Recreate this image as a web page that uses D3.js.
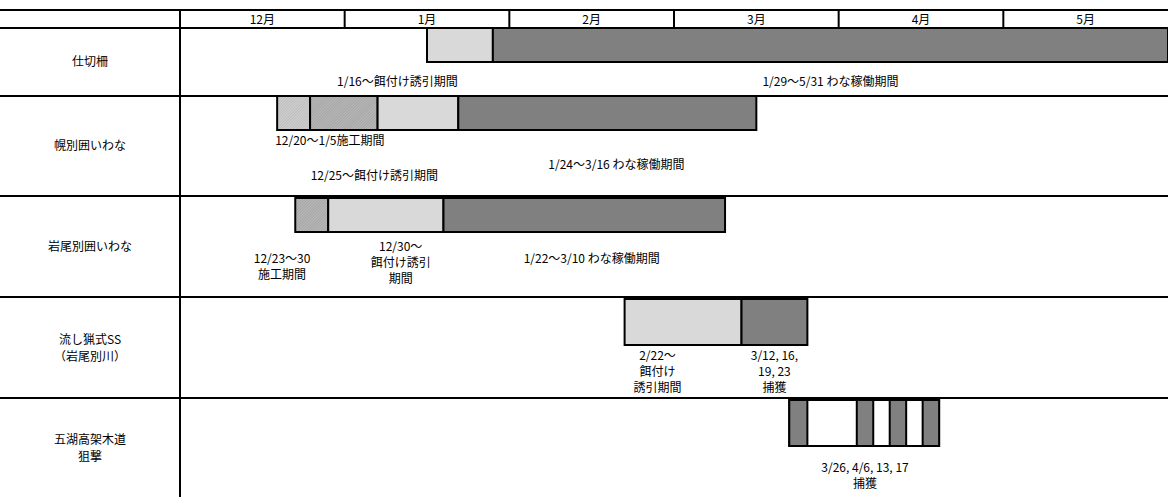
<!DOCTYPE html>
<html><head><meta charset="utf-8">
<script src="https://cdn.jsdelivr.net/npm/d3@7"></script>
<style>body{margin:0;background:#fff}text{font-family:"Noto Sans CJK JP",sans-serif;font-size:12px;fill:#000}</style>
</head><body><svg id="c" width="1168" height="500"></svg>
<script>
// months on the header, positions in fractional months from 1 Dec
var months = ["12月","1月","2月","3月","4月","5月"];
var rowNames = [["仕切柵"],["幌別囲いわな"],["岩尾別囲いわな"],["流し猟式SS","（岩尾別川）"],["五湖高架木道","狙撃"]];
var rowBounds = [28, 96, 196, 297, 398, 497];
// bars: row, start, end, kind
var bars = [
  [0,1.50,1.90,"bait"],[0,1.90,6.0,"trap"],
  [1,0.59,0.79,"hatchL"],[1,0.79,1.20,"hatchD"],[1,1.20,1.69,"bait"],[1,1.69,3.50,"trap"],
  [2,0.70,0.90,"hatchD"],[2,0.90,1.60,"bait"],[2,1.60,3.31,"trap"],
  [3,2.70,3.41,"bait"],[3,3.41,3.81,"trap"],
  [4,3.70,4.61,"empty"],[4,3.70,3.81,"trap"],[4,4.11,4.21,"trap"],[4,4.31,4.41,"trap"],[4,4.51,4.61,"trap"]
];
var barTop = [28,96,198,299,400], barH = [34,34,34,46,46];
// labels: lines, x (months), y
var notes = [
  [["1/16〜餌付け誘引期間"],1.32,86],
  [["1/29〜5/31 わな稼働期間"],3.95,86],
  [["12/20〜1/5施工期間"],0.91,145],
  [["12/25〜餌付け誘引期間"],1.18,180],
  [["1/24〜3/16 わな稼働期間"],2.65,169],
  [["12/23〜30","施工期間"],0.62,263],
  [["12/30〜","餌付け誘引","期間"],1.34,251],
  [["1/22〜3/10 わな稼働期間"],2.50,263],
  [["2/22〜","餌付け","誘引期間"],2.90,360],
  [["3/12, 16,","19, 23","捕獲"],3.61,360],
  [["3/26, 4/6, 13, 17","捕獲"],4.16,472]
];

var svg = d3.select("#c");
var x = d3.scaleLinear().domain([0,6]).range([180,1168]);
var defs = svg.append("defs");
function hatch(id, bg, fg){
  var p = defs.append("pattern").attr("id",id).attr("width",2).attr("height",2)
    .attr("patternUnits","userSpaceOnUse").attr("patternTransform","rotate(45)");
  p.append("rect").attr("width",2).attr("height",2).attr("fill",bg);
  p.append("line").attr("x1",0).attr("y1",0).attr("x2",0).attr("y2",2).attr("stroke",fg).attr("stroke-width",0.8);
}
hatch("hl","#d0d0d0","#a0a0a0");
hatch("hd","#b8b8b8","#8c8c8c");
var fills = {bait:"#d9d9d9",trap:"#808080",hatchL:"url(#hl)",hatchD:"url(#hd)",empty:"#fff"};

svg.selectAll("rect.bar").data(bars).enter().append("rect")
  .attr("x",d=>x(d[1])).attr("width",d=>x(d[2])-x(d[1]))
  .attr("y",d=>barTop[d[0]]).attr("height",d=>barH[d[0]])
  .attr("fill",d=>fills[d[3]]).attr("stroke","#000").attr("stroke-width",2);

// grid
var g = svg.append("g").attr("stroke","#000").attr("stroke-width",2);
g.append("line").attr("x1",0).attr("x2",1168).attr("y1",10).attr("y2",10);
rowBounds.forEach(function(y,i){
  g.append("line").attr("x1",0).attr("x2",1168).attr("y1",y).attr("y2",y)
   .attr("stroke-width", i==rowBounds.length-1 ? 0 : 2);
});
g.append("line").attr("x1",180).attr("x2",180).attr("y1",10).attr("y2",497);
d3.range(1,6).forEach(function(i){
  g.append("line").attr("x1",x(i)).attr("x2",x(i)).attr("y1",10).attr("y2",28);
});
svg.selectAll("text.m").data(months).enter().append("text")
  .attr("x",(d,i)=>x(i+0.5)).attr("y",24).attr("text-anchor","middle").text(d=>d);

rowNames.forEach(function(r,i){
  var cy = (rowBounds[i]+rowBounds[i+1])/2 - (r.length-1)*8 + 4;
  r.forEach(function(t,j){
    svg.append("text").attr("x",90).attr("y",cy+j*17).attr("text-anchor","middle").text(t);
  });
});
notes.forEach(function(n){
  n[0].forEach(function(t,j){
    svg.append("text").attr("x",x(n[1])).attr("y",n[2]+j*16).attr("text-anchor","middle").text(t);
  });
});
</script></body></html>
